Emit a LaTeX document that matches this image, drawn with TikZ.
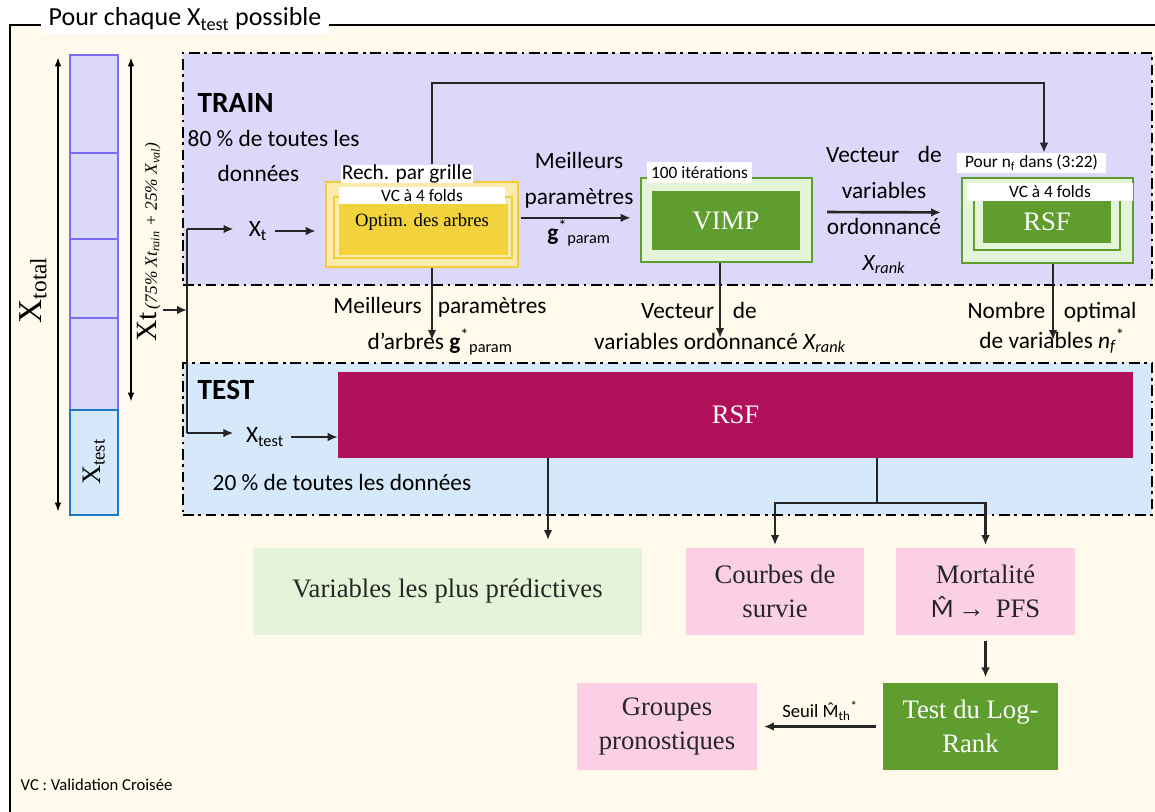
\documentclass[tikz,border=0pt]{standalone}
\usepackage{fontspec}
\setmainfont{Carlito}
\newfontfamily\tms{Liberation Serif}
\usetikzlibrary{arrows.meta}

\definecolor{cream}{HTML}{FFFAEB}
\definecolor{lavender}{HTML}{DCD8FA}
\definecolor{skyfill}{HTML}{D5E9FB}
\definecolor{rsfred}{HTML}{B0115A}
\definecolor{leaf}{HTML}{5F9E2E}
\definecolor{leaflight}{HTML}{E4F4D9}
\definecolor{rose}{HTML}{FBD0E4}
\definecolor{goldlight}{HTML}{FAEBAE}
\definecolor{gold}{HTML}{F2D33C}
\definecolor{goldline}{HTML}{F2CC3A}
\definecolor{cellline}{HTML}{7B6CF5}
\definecolor{testline}{HTML}{1A78C8}

% M chapeau
\newcommand{\Mchap}{\ooalign{M\cr\hidewidth\raisebox{0.2ex}{ˆ}\hidewidth\cr}}

\begin{document}
\begin{tikzpicture}[x=0.75pt,y=-0.75pt,
    zone/.style={draw=black, line width=2.2pt, dash pattern=on 8pt off 3.5pt on 2pt off 3.5pt, inner sep=0pt},
    cell/.style={draw=cellline, line width=2.2pt, fill=lavender},
    tag/.style={fill=white, inner sep=0pt, font=\fontsize{13}{13}\selectfont},
    lbl/.style={align=center, font=\fontsize{17.5}{27}\selectfont},
    serifbig/.style={align=center, font=\tms\fontsize{20}{25}\selectfont},
    arr/.style={draw=black!85, line width=2pt, -{Latex[length=7.5pt,width=6.5pt]}},
    conn/.style={draw=black!85, line width=2pt},
    dbl/.style={draw=black, line width=1.5pt, {Latex[length=7pt,width=5pt]}-{Latex[length=7pt,width=5pt]}}]
    \useasboundingbox (0,0) rectangle (1155,811);
    \fill[white] (0,0) rectangle (1155,811);

    % cadre general
    \draw[line width=2.2pt, fill=cream] (10,25) rectangle (1175,830);
    \node[fill=white, inner xsep=6pt, inner ysep=3pt, font=\fontsize{19.5}{20}\selectfont] (titre) at (185,19) {Pour chaque X\textsubscript{test} possible};

    % decoupage des donnees
    \foreach \ya/\yb in {55/153, 153/239, 239/318, 318/410}
        \draw[cell] (70,\ya) rectangle (118,\yb);
    \draw[line width=2.2pt, draw=testline, fill=skyfill] (70,410) rectangle (118,515);
    \node[rotate=90, font=\tms\fontsize{20}{20}\selectfont] (xtestv) at (94,462) {X\textsubscript{test}};

    \coordinate (tottop) at (58,57);
    \coordinate (totbot) at (58,512);
    \draw[dbl] (tottop) -- (totbot);
    \node[rotate=90, font=\tms\fontsize{25}{25}\selectfont] (xtotal) at (33,290) {X\textsubscript{total}};
    \coordinate (xttop) at (131,57);
    \coordinate (xtbot) at (131,402);
    \draw[dbl] (xttop) -- (xtbot);
    \node[rotate=90] (xtv) at (149,242) {{\tms\fontsize{22}{22}\selectfont Xt} {\tms\itshape\fontsize{13}{13}\selectfont (75\% Xt\textsubscript{rain} + 25\% X\textsubscript{val})}};

    % zones train / test
    \node[zone, fill=lavender, minimum width=726.75pt, minimum height=174pt] (train) at (667.5,169) {};
    \node[zone, fill=skyfill, minimum width=726.75pt, minimum height=114pt] (test) at (667.5,439) {};

    \node[anchor=west, font=\bfseries\fontsize{22}{22}\selectfont] (traintitle) at (193,103) {TRAIN};
    \node[lbl, anchor=west] (pct80) at (183,138) {80 \% de toutes les};
    \node[lbl, anchor=west] (donnees) at (213,173) {données};

    % entree
    \coordinate (xin) at (163,310);
    \coordinate (jtop) at (187,229);
    \coordinate (jbot) at (187,433);
    \draw[conn] (jtop) -- (jbot);
    \draw[arr] (xin) -- (xin -| jtop);
    \node[lbl] (xt) at (258,231) {X\textsubscript{t}};
    \node[lbl] (xtestlbl) at (265,437) {X\textsubscript{test}};
    \draw[arr, shorten >=8pt] (jtop) -- (jtop -| xt.west);
    \draw[arr, shorten >=6pt] (jbot) -- (jbot -| xtestlbl.west);

    % optimisation des arbres
    \node[draw=goldline, line width=1.5pt, fill=goldlight, minimum width=144pt, minimum height=63.75pt] (optout) at (422,224.5) {};
    \node[draw=goldline, line width=1.5pt, fill=goldlight, minimum width=133.5pt, minimum height=45.75pt] (optmid) at (423,227.5) {};
    \node[fill=gold, minimum width=126.75pt, minimum height=38.25pt] (optin) at (423.5,229.5) {};
    \node[font=\tms\fontsize{14}{14}\selectfont] (optlbl) at (422,222) {Optim. des arbres};
    \node[tag, minimum width=124.5pt, minimum height=12.75pt] (optvc) at (422,195.5) {VC à 4 folds};
    \node[tag, minimum width=99pt, minimum height=13.5pt, font=\fontsize{16}{16}\selectfont] (grille) at (407,174) {Rech. par grille};
    \draw[arr, shorten <=2pt, shorten >=7pt] (xt.east) -- (xt.east -| optout.west);

    % VIMP
    \node[draw=leaf, line width=1.5pt, fill=leaflight, minimum width=128.25pt, minimum height=63pt] (vimpout) at (726.5,220) {};
    \node[fill=leaf, text=white, serifbig, minimum width=111pt, minimum height=44.25pt] (vimp) at (726,220.5) {VIMP};
    \node[tag, minimum width=78.75pt, minimum height=15.75pt] (iter) at (699.5,172.5) {100 itérations};

    % RSF de validation
    \node[draw=leaf, line width=1.5pt, fill=leaflight, minimum width=128.25pt, minimum height=63.75pt] (rsfout) at (1047.5,220.5) {};
    \node[draw=leaf, line width=1.5pt, fill=leaflight, minimum width=109.5pt, minimum height=45pt] (rsfmid) at (1047,220) {};
    \node[fill=leaf, text=white, serifbig, minimum width=96pt, minimum height=31.5pt] (rsfcv) at (1047,222) {RSF};
    \node[tag, minimum width=124.5pt, minimum height=13.5pt] (rsfvc) at (1050,192) {VC à 4 folds};
    \node[tag, minimum width=111.75pt, minimum height=15pt] (nflbl) at (1031.5,163) {Pour n\textsubscript{f} dans (3:22)};

    % liens dans train
    \node[lbl] (gparam) at (579,199) {Meilleurs\\paramètres\\\textbf{g}\textsuperscript{*}\textsubscript{param}};
    \draw[arr, shorten <=1.5pt, shorten >=7pt] ([yshift=5pt]optout.east) -- ([yshift=5pt]optout.east -| vimpout.west);
    \node[lbl] (xrank) at (884,210) {Vecteur\hspace{14pt}de\\variables\\ordonnancé\\\textit{X\textsubscript{rank}}};
    \draw[arr, shorten <=10.5pt, shorten >=15pt] ([yshift=6pt]vimpout.east) -- ([yshift=6pt]rsfout.west);

    \coordinate (loopl) at (432,83);
    \coordinate (loopr) at (1044,83);
    \draw[arr] (grille.north -| loopl) -- (loopl) -- (loopr) -- (loopr |- nflbl.north);

    % sorties vers test
    \coordinate (gout) at (432,340);
    \draw[arr] (optout.south -| gout) -- (gout);
    \node[lbl] (gtxt) at (440,326) {Meilleurs\hspace{12pt}paramètres\\d’arbres \textbf{g}\textsuperscript{*}\textsubscript{param}};
    \coordinate (vout) at (720,338);
    \draw[arr] (vimpout.south -| vout) -- (vout);
    \node[lbl] (vtxt) at (699,310) {Vecteur\hspace{14pt}de};
    \node[lbl] (vtxtb) at (720,343) {variables ordonnancé \textit{X\textsubscript{rank}}};
    \coordinate (nout) at (1053,340);
    \draw[arr] (rsfout.south -| nout) -- (nout);
    \node[align=center, font=\fontsize{17.5}{22.5}\selectfont] (ntxt) at (1052,328) {Nombre\hspace{14pt}optimal\\de variables \textit{n\textsubscript{f}}\textsuperscript{*}};

    % test
    \node[anchor=west, font=\bfseries\fontsize{22}{22}\selectfont] (testtitle) at (193,390) {TEST};
    \node[fill=rsfred, text=white, serifbig, minimum width=596.25pt, minimum height=64.5pt] (rsf) at (735.5,415) {RSF};
    \draw[arr, shorten <=2pt] (xtestlbl.east) -- (xtestlbl.east -| rsf.west);
    \node[lbl, anchor=west] (pct20) at (208,482) {20 \% de toutes les données};

    % resultats
    \node[fill=leaflight, serifbig, text=black!85, minimum width=291.75pt, minimum height=65.25pt] (pred) at (447.5,591.5) {Variables les plus prédictives};
    \node[fill=rose, serifbig, text=black!85, minimum width=133.5pt, minimum height=65.25pt] (courbes) at (775,591.5) {Courbes de\\survie};
    \node[fill=rose, serifbig, text=black!85, minimum width=134.25pt, minimum height=65.25pt] (mort) at (985.5,591.5) {Mortalité\\{\rmfamily\Mchap}\,→\, PFS};
    \node[fill=leaf, serifbig, text=white, minimum width=131.25pt, minimum height=65.25pt] (logrank) at (970.5,726.5) {Test du Log-\\Rank};
    \node[fill=rose, serifbig, text=black!85, minimum width=135pt, minimum height=65.25pt] (groupes) at (667,726.5) {Groupes\\pronostiques};

    \coordinate (predin) at (548,540);
    \draw[arr] (rsf.south -| predin) -- (predin);
    \coordinate (fork) at (877,503);
    \draw[conn] (rsf.south -| fork) -- (fork);
    \draw[arr, shorten >=2pt] (fork) -| (courbes.north);
    \draw[arr, shorten >=2pt] (fork) -| (mort.north);
    \draw[arr, shorten <=4pt, shorten >=4pt] (mort.south) -- (mort.south |- logrank.north);
    \draw[arr, shorten <=5pt, shorten >=5pt] (logrank.west) -- (groupes.east)
        node[midway, above, font=\fontsize{14}{14}\selectfont] (seuil) {Seuil \Mchap\textsubscript{th}\textsuperscript{*}};

    \node[anchor=west, font=\fontsize{12.5}{13}\selectfont] (vcnote) at (16,785) {VC : Validation Croisée};
\end{tikzpicture}
\end{document}
